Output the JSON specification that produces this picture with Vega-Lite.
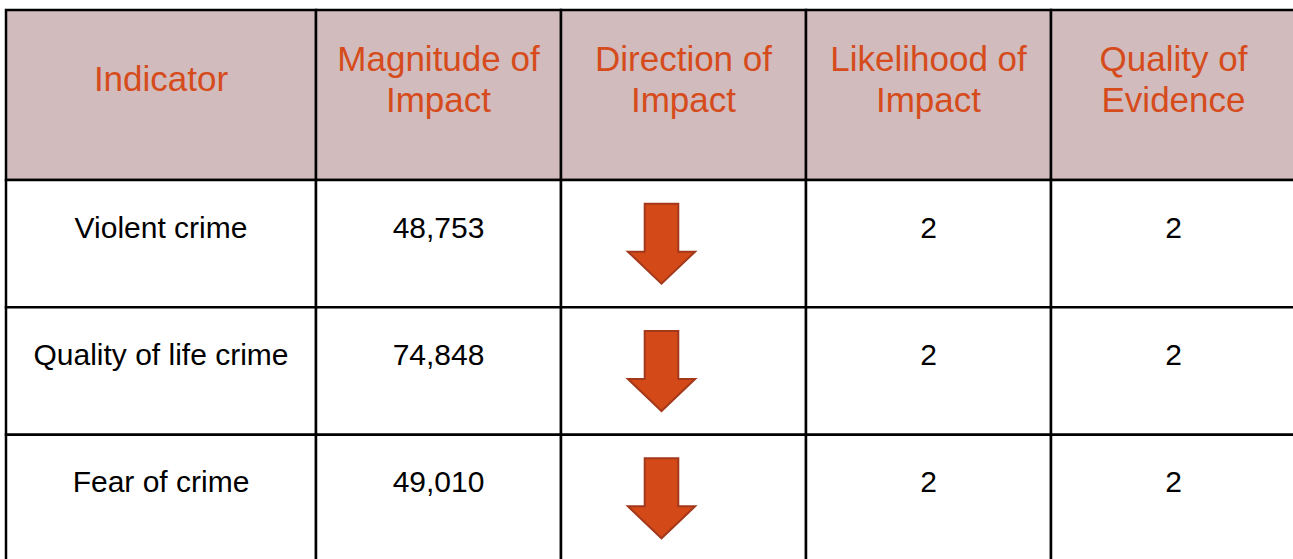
{
  "$schema": "https://vega.github.io/schema/vega-lite/v6.json",
  "width": 1293,
  "height": 559,
  "padding": 0,
  "autosize": "none",
  "background": "#ffffff",
  "config": {"view": {"stroke": null}},
  "data": {
    "values": [
      {"row": 0, "col": 0, "value": "Indicator"},
      {"row": 0, "col": 1, "value": "Magnitude of\nImpact"},
      {"row": 0, "col": 2, "value": "Direction of\nImpact"},
      {"row": 0, "col": 3, "value": "Likelihood of\nImpact"},
      {"row": 0, "col": 4, "value": "Quality of\nEvidence"},
      {"row": 1, "col": 0, "value": "Violent crime"},
      {"row": 1, "col": 1, "value": "48,753"},
      {"row": 1, "col": 2, "value": "down"},
      {"row": 1, "col": 3, "value": "2"},
      {"row": 1, "col": 4, "value": "2"},
      {"row": 2, "col": 0, "value": "Quality of life crime"},
      {"row": 2, "col": 1, "value": "74,848"},
      {"row": 2, "col": 2, "value": "down"},
      {"row": 2, "col": 3, "value": "2"},
      {"row": 2, "col": 4, "value": "2"},
      {"row": 3, "col": 0, "value": "Fear of crime"},
      {"row": 3, "col": 1, "value": "49,010"},
      {"row": 3, "col": 2, "value": "down"},
      {"row": 3, "col": 3, "value": "2"},
      {"row": 3, "col": 4, "value": "2"}
    ]
  },
  "transform": [
    {"calculate": "datum.col + 1", "as": "col2"},
    {"calculate": "datum.row + 1", "as": "row2"},
    {"calculate": "datum.col + 0.5", "as": "cx"},
    {"calculate": "datum.row + 0.5", "as": "cy"}
  ],
  "layer": [
    {
      "mark": {"type": "rect", "stroke": "#000000", "strokeWidth": 2.5},
      "encoding": {
        "x": {"field": "col", "type": "quantitative", "axis": null,
              "scale": {"type": "linear", "domain": [0, 1, 5], "range": [6, 316, 1296], "zero": false, "nice": false}},
        "x2": {"field": "col2"},
        "y": {"field": "row", "type": "quantitative", "axis": null,
              "scale": {"type": "linear", "domain": [0, 1, 4], "range": [10, 180, 562], "zero": false, "nice": false}},
        "y2": {"field": "row2"},
        "fill": {"condition": {"test": "datum.row === 0", "value": "#D1BBBC"}, "value": "#FFFFFF"}
      }
    },
    {
      "transform": [{"filter": "datum.row === 0 && indexof(datum.value, '\\n') < 0"}],
      "mark": {"type": "text", "font": "Liberation Sans", "fontSize": 35,
               "color": "#D64B1B", "align": "center", "baseline": "middle", "dy": -15},
      "encoding": {
        "x": {"field": "cx", "type": "quantitative"},
        "y": {"field": "cy", "type": "quantitative"},
        "text": {"field": "value"}
      }
    },
    {
      "transform": [{"filter": "datum.row === 0 && indexof(datum.value, '\\n') >= 0"}],
      "mark": {"type": "text", "font": "Liberation Sans", "fontSize": 35, "lineHeight": 41,
               "lineBreak": "\n", "color": "#D64B1B", "align": "center", "baseline": "middle", "dy": -35},
      "encoding": {
        "x": {"field": "cx", "type": "quantitative"},
        "y": {"field": "cy", "type": "quantitative"},
        "text": {"field": "value"}
      }
    },
    {
      "transform": [{"filter": "datum.row > 0 && datum.col !== 2"}],
      "mark": {"type": "text", "font": "Liberation Sans", "fontSize": 30,
               "color": "#000000", "align": "center", "baseline": "middle", "dy": -15},
      "encoding": {
        "x": {"field": "cx", "type": "quantitative"},
        "y": {"field": "cy", "type": "quantitative"},
        "text": {"field": "value"}
      }
    },
    {
      "transform": [{"filter": "datum.row > 0 && datum.col === 2"}],
      "mark": {"type": "point", "filled": true, "opacity": 1,
               "shape": "M -0.42 -1 L 0.42 -1 L 0.42 0.2 L 0.84 0.2 L 0 1 L -0.84 0.2 L -0.42 0.2 Z",
               "size": 6400, "fill": "#D34A18", "stroke": "#A3381A", "strokeWidth": 2, "xOffset": -22},
      "encoding": {
        "x": {"field": "cx", "type": "quantitative"},
        "y": {"field": "cy", "type": "quantitative"}
      }
    }
  ]
}
